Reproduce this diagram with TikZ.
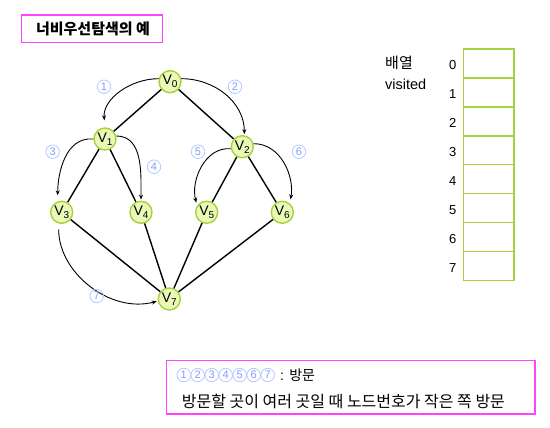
\documentclass[tikz,border=0pt]{standalone}
\usepackage{fontspec}
\setmainfont{Liberation Sans}
\newfontfamily\krfont{Noto Sans CJK KR}
\usetikzlibrary{arrows.meta}
\definecolor{nodefill}{HTML}{EAF8B8}
\definecolor{nodeline}{HTML}{A6D33C}
\definecolor{magbox}{HTML}{FF44FF}
\definecolor{numblue}{HTML}{7F9CFF}
\definecolor{numring}{HTML}{B4C8FF}
\newcommand{\vsub}[1]{V\raisebox{-3pt}{\fontsize{10}{10}\selectfont #1}}
\tikzset{
  vert/.style={circle,draw=nodeline,fill=nodefill,line width=1.4pt,minimum size=22pt,inner sep=0pt,font=\fontsize{14}{14}\selectfont},
  edge/.style={line width=1.4pt,black},
  visit/.style={line width=0.9pt,-{Stealth[length=5pt,width=4pt]}},
  num/.style={circle,draw=numring,line width=0.8pt,text=numblue,minimum size=13.5pt,inner sep=0pt,font=\fontsize{11}{11}\selectfont},
  cell/.style={draw=nodeline,line width=1.3pt,minimum width=50.7pt,minimum height=28.96pt,inner sep=0pt},
  idx/.style={font=\fontsize{13}{13}\selectfont,inner sep=0pt},
  frame/.style={draw=magbox,line width=1.3pt}
}
\begin{document}
\begin{tikzpicture}[x=1pt,y=-1pt]
\useasboundingbox (0,0) rectangle (550,428);
% title
\draw[frame] (21.7,15) rectangle (162.3,42.3);
\node[font=\krfont\bfseries\fontsize{15}{15}\selectfont] (title) at (93,29) {너비우선탐색의 예};
% vertices
\node[vert] (V0) at (170,81.7) {\vsub{0}};
\node[vert] (V1) at (105,139) {\vsub{1}};
\node[vert] (V2) at (242.3,146.7) {\vsub{2}};
\node[vert] (V3) at (61.7,212.3) {\vsub{3}};
\node[vert] (V4) at (141,212.3) {\vsub{4}};
\node[vert] (V5) at (206.7,212.3) {\vsub{5}};
\node[vert] (V6) at (282.3,212.3) {\vsub{6}};
\node[vert] (V7) at (169.3,299) {\vsub{7}};
% edges
\draw[edge] (V0) -- (V1);
\draw[edge] (V0) -- (V2);
\draw[edge] (V1) -- (V3);
\draw[edge] (V1) -- (V4);
\draw[edge] (V2) -- (V5);
\draw[edge] (V2) -- (V6);
\draw[edge] (V3) -- (V7);
\draw[edge] (V4) -- (V7);
\draw[edge] (V5) -- (V7);
\draw[edge] (V6) -- (V7);
% visiting arrows
\draw[visit,shorten >=7pt] (V0.165) to[out=180,in=95] (V1.north);
\draw[visit,shorten >=1pt] (V0.15) to[out=0,in=90] (V2.80);
\draw[visit,shorten >=6pt] (V1.180) to[out=175,in=90] (V3.110);
\draw[visit,shorten >=1pt] (V1.15) to[out=0,in=90] (V4.north);
\draw[visit,shorten >=3pt] (V2.190) to[out=175,in=105] (V5.145);
\draw[visit,shorten >=4pt] (V2.15) to[out=0,in=80] (V6.50);
\draw[visit,shorten <=6pt,shorten >=1pt] (V3.255) to[out=-90,in=195] (V7.190);
% numbers
\node[num] (n1) at (104,86.7) {1};
\node[num] (n2) at (235,86.7) {2};
\node[num] (n3) at (52.7,151.7) {3};
\node[num] (n4) at (154,166.7) {4};
\node[num] (n5) at (198,151.7) {5};
\node[num] (n6) at (299,151.7) {6};
\node[num] (n7) at (96.7,296) {7};
% array
\node[anchor=west,font=\krfont\fontsize{15}{15}\selectfont,inner sep=0pt] (arr) at (385,62.7) {배열};
\node[anchor=west,font=\fontsize{14.5}{14.5}\selectfont,inner sep=0pt] (vis) at (385,84.3) {visited};
\foreach \i in {0,...,7} {
  \node[cell] (c\i) at (488.65,{49+14.48+28.96*\i}) {};
  \node[idx] (i\i) at (452.7,{49+16+28.96*\i}) {\i};
}
% legend
\draw[frame] (166.7,360.7) rectangle (535,414);
\foreach \k in {1,...,7} {
  \node[num] (l\k) at ({176.7+7+14*(\k-1)},375) {\k};
}
\node[anchor=west,inner sep=0pt,font=\fontsize{14}{14}\selectfont] (leg1) at (280,375) {: {\krfont 방문}};
\node[anchor=west,inner sep=0pt,font=\krfont\fontsize{16}{16}\selectfont] (leg2) at (181.7,401.7) {방문할 곳이 여러 곳일 때 노드번호가 작은 쪽 방문};
\end{tikzpicture}
\end{document}
